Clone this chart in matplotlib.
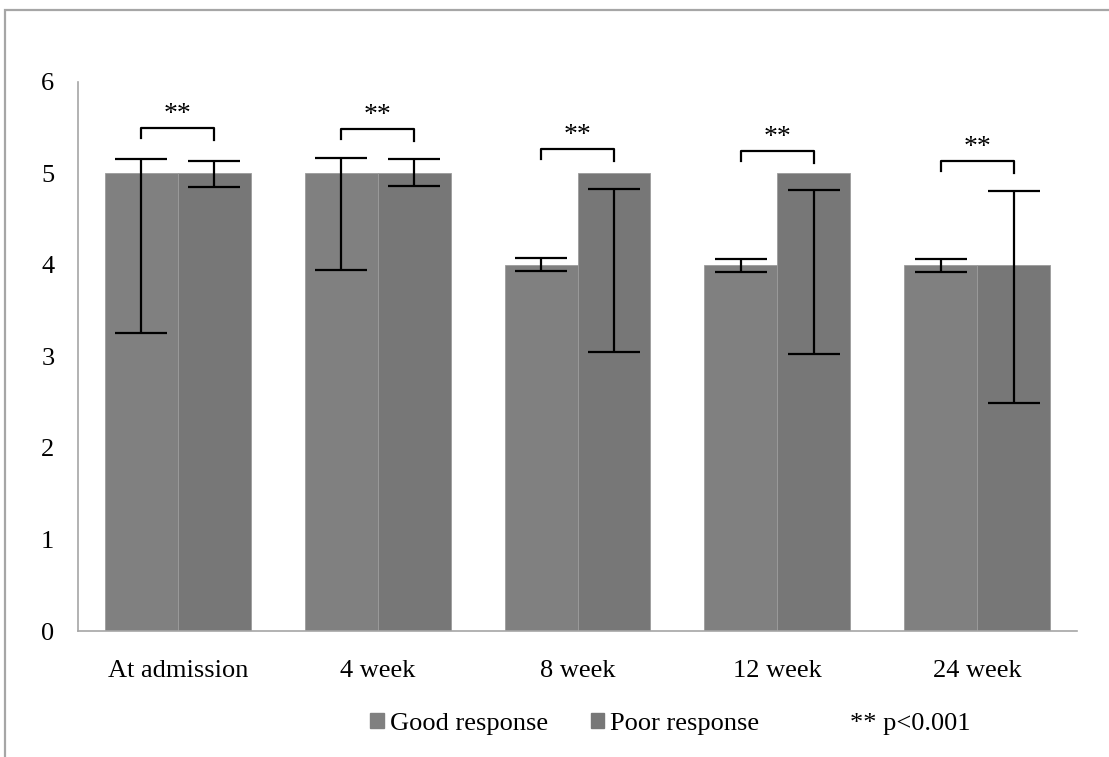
import matplotlib.pyplot as plt
from matplotlib.patches import Rectangle
import numpy as np

plt.rcParams['font.family'] = ['Liberation Serif', 'DejaVu Serif']

categories = ['At admission', '4 week', '8 week', '12 week', '24 week']
good = [5, 5, 4, 4, 4]
poor = [5, 5, 5, 5, 4]
good_upper = [5.16, 5.17, 4.08, 4.07, 4.07]
good_lower = [3.26, 3.95, 3.93, 3.92, 3.92]
poor_upper = [5.14, 5.16, 4.83, 4.82, 4.81]
poor_lower = [4.85, 4.86, 3.05, 3.03, 2.49]
sig_level = [5.50, 5.49, 5.27, 5.25, 5.14]

fig = plt.figure(figsize=(11.09, 7.57), dpi=100)
ax = fig.add_axes([78 / 1109, 1 - 631 / 757, (1077 - 78) / 1109, (631 - 82) / 757])

x = np.arange(len(categories))
w = 0.365
good_col = '#808080'
poor_col = '#777777'

ax.bar(x - w / 2, good, w, color=good_col, edgecolor='#9c9c9c', linewidth=0.6)
ax.bar(x + w / 2, poor, w, color=poor_col, edgecolor='#9c9c9c', linewidth=0.6)

# error bars drawn from their lower to upper limits (not centred on the bar top)
ekw = dict(fmt='none', ecolor='black', elinewidth=1.6, capsize=19, capthick=1.6)
for pos, lo, hi in [(x - w / 2, good_lower, good_upper), (x + w / 2, poor_lower, poor_upper)]:
    lo = np.array(lo)
    hi = np.array(hi)
    ax.errorbar(pos, (lo + hi) / 2, yerr=(hi - lo) / 2, **ekw)

# significance brackets
for xi, lvl in zip(x, sig_level):
    ax.plot([xi - w / 2, xi - w / 2, xi + w / 2, xi + w / 2],
            [lvl - 0.11, lvl, lvl, lvl - 0.13], color='black', lw=1.6)
    ax.text(xi, lvl + 0.01, '**', ha='center', va='bottom', fontsize=20)

ax.set_xlim(-0.5, 4.5)
ax.set_ylim(0, 6)
ax.set_yticks(range(7))
ax.set_xticks(x)
ax.set_xticklabels(categories)
ax.tick_params(axis='both', length=0, labelsize=19)
ax.tick_params(axis='x', pad=21)
ax.tick_params(axis='y', pad=17)
for s in ['top', 'right']:
    ax.spines[s].set_visible(False)
for s in ['left', 'bottom']:
    ax.spines[s].set_color('#a6a6a6')
    ax.spines[s].set_linewidth(1.2)

handles = [Rectangle((0, 0), 1, 1, color=good_col), Rectangle((0, 0), 1, 1, color=poor_col)]
fig.legend(handles, ['Good response', 'Poor response'], loc='center',
           bbox_to_anchor=(565 / 1109, 1 - 724 / 757), ncol=2, frameon=False,
           fontsize=19, handlelength=0.5, handleheight=0.5, handletextpad=0.25,
           columnspacing=1.6)
fig.text(850 / 1109, 1 - 724 / 757, '** p<0.001', ha='left', va='center', fontsize=19)

# outer chart frame
fig.add_artist(Rectangle((5 / 1109, -0.1), 1.2, 1.1 - 10 / 757, transform=fig.transFigure,
                         fill=False, edgecolor='#a6a6a6', linewidth=1.6))

fig.savefig('out.png', dpi=100)
